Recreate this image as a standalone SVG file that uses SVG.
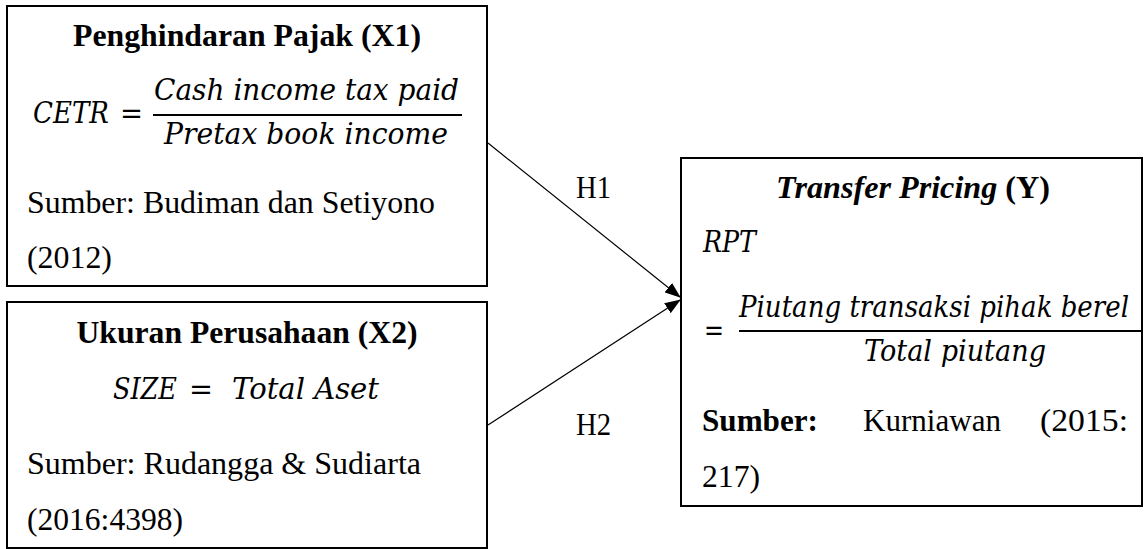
<svg xmlns="http://www.w3.org/2000/svg" width="1146" height="549" viewBox="0 0 1146 549">
<style>
.bg{fill:#fff}
.box{fill:#fff;stroke:#000;stroke-width:2}
.t{font-family:"Liberation Serif","Times New Roman",serif;font-size:31px;fill:#000}
.b{font-weight:bold}
.m{font-family:"DejaVu Serif",serif;font-style:italic;font-size:29px;fill:#000}
.mr{font-family:"DejaVu Serif",serif;font-size:29px;fill:#000}
.bar{stroke:#000;stroke-width:2;fill:none}
.conn{stroke:#000;stroke-width:1.2;fill:none}
</style>
<defs>
<marker id="arr" markerUnits="userSpaceOnUse" markerWidth="16" markerHeight="12" refX="15" refY="6" orient="auto" viewBox="0 0 16 12">
<path d="M0,0 L16,6 L0,12 z" fill="#000"/>
</marker>
</defs>
<rect class="bg" x="0" y="0" width="1146" height="549"/>

<g id="x1">
<rect class="box" x="7" y="6" width="480" height="280"/>
<text class="t b" x="247" y="46" text-anchor="middle" textLength="348" lengthAdjust="spacingAndGlyphs">Penghindaran Pajak (X1)</text>
<text class="m" x="33" y="123" textLength="76" lengthAdjust="spacingAndGlyphs">CETR</text>
<text class="mr" x="120" y="123" textLength="23" lengthAdjust="spacingAndGlyphs">=</text>
<text class="m" x="154" y="100" textLength="305" lengthAdjust="spacingAndGlyphs">Cash income tax paid</text>
<line class="bar" x1="153" y1="115" x2="462" y2="115"/>
<text class="m" x="164" y="144" textLength="284" lengthAdjust="spacingAndGlyphs">Pretax book income</text>
<text class="t" x="27" y="213" textLength="408" lengthAdjust="spacingAndGlyphs">Sumber: Budiman dan Setiyono</text>
<text class="t" x="27" y="268" textLength="85" lengthAdjust="spacingAndGlyphs">(2012)</text>
</g>

<g id="x2">
<rect class="box" x="7" y="302" width="480" height="246"/>
<text class="t b" x="247" y="343" text-anchor="middle" textLength="341" lengthAdjust="spacingAndGlyphs">Ukuran Perusahaan (X2)</text>
<text class="m" x="113" y="399" textLength="64" lengthAdjust="spacingAndGlyphs">SIZE</text>
<text class="mr" x="189" y="399" textLength="24" lengthAdjust="spacingAndGlyphs">=</text>
<text class="m" x="232" y="399" textLength="147" lengthAdjust="spacingAndGlyphs">Total Aset</text>
<text class="t" x="27" y="474" textLength="394" lengthAdjust="spacingAndGlyphs">Sumber: Rudangga &amp; Sudiarta</text>
<text class="t" x="27" y="530" textLength="156" lengthAdjust="spacingAndGlyphs">(2016:4398)</text>
</g>

<g id="y">
<rect class="box" x="681" y="158" width="461" height="348"/>
<text class="t b" x="776" y="198" textLength="274" lengthAdjust="spacingAndGlyphs"><tspan font-style="italic">Transfer Pricing</tspan> (Y)</text>
<text class="m" x="703" y="252" textLength="53" lengthAdjust="spacingAndGlyphs">RPT</text>
<text class="mr" x="704" y="340" textLength="20" lengthAdjust="spacingAndGlyphs">=</text>
<text class="m" x="739" y="317" textLength="390" lengthAdjust="spacingAndGlyphs">Piutang transaksi pihak berel</text>
<line class="bar" x1="739" y1="331" x2="1142" y2="331"/>
<text class="m" x="864" y="361" textLength="182" lengthAdjust="spacingAndGlyphs">Total piutang</text>
<text class="t b" x="702" y="431" textLength="116" lengthAdjust="spacingAndGlyphs">Sumber:</text>
<text class="t" x="863" y="431" textLength="138" lengthAdjust="spacingAndGlyphs">Kurniawan</text>
<text class="t" x="1040" y="431" textLength="88" lengthAdjust="spacingAndGlyphs">(2015:</text>
<text class="t" x="702" y="487" textLength="58" lengthAdjust="spacingAndGlyphs">217)</text>
</g>

<g id="connectors">
<line class="conn" x1="488" y1="143" x2="680" y2="297" marker-end="url(#arr)"/>
<line class="conn" x1="488" y1="425" x2="680" y2="300" marker-end="url(#arr)"/>
<text class="t" x="576" y="198" textLength="35" lengthAdjust="spacingAndGlyphs">H1</text>
<text class="t" x="576" y="435" textLength="35" lengthAdjust="spacingAndGlyphs">H2</text>
</g>
</svg>
